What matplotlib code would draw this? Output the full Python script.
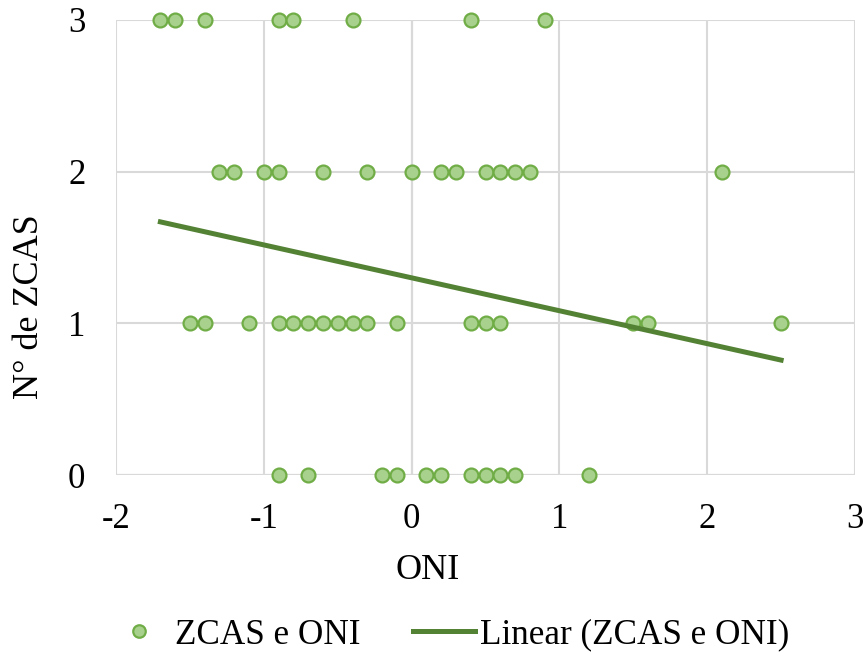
import numpy as np
import matplotlib; matplotlib.use("Agg"); import matplotlib.pyplot as plt

plt.rcParams["font.family"] = ["Liberation Serif", "DejaVu Serif"]
plt.rcParams["axes.unicode_minus"] = False

# ONI values grouped by number of ZCAS events
oni_3 = [-1.7, -1.6, -1.4, -0.9, -0.8, -0.4, 0.4, 0.9]
oni_2 = [-1.3, -1.2, -1.0, -0.9, -0.6, -0.3, 0.0, 0.2, 0.3, 0.5, 0.6, 0.7, 0.8, 2.1]
oni_1 = [-1.5, -1.4, -1.1, -0.9, -0.8, -0.7, -0.6, -0.5, -0.4, -0.3, -0.1, 0.4, 0.5, 0.6, 1.5, 1.6, 2.5]
oni_0 = [-0.9, -0.7, -0.2, -0.1, 0.1, 0.2, 0.4, 0.5, 0.6, 0.7, 1.2]
# linear trendline (spans data range)
trend_x = [-1.7, 2.5]
trend_slope, trend_icpt = -0.217, 1.30

x = np.array(oni_3 + oni_2 + oni_1 + oni_0)
y = np.array([3]*len(oni_3) + [2]*len(oni_2) + [1]*len(oni_1) + [0]*len(oni_0))
xt = np.array(trend_x)

fig = plt.figure(figsize=(8.66, 6.57), dpi=100)
ax = fig.add_axes([0.1340, 0.277, 0.8533, 0.6926])

ax.plot(x, y, "o", ms=10, mfc="#A9D18E", mec="#70AD47", mew=1.6,
        clip_on=False, zorder=3, label="ZCAS e ONI")
ax.plot(xt, trend_slope*xt + trend_icpt, "-", color="#548235", lw=3.6, zorder=4,
        label="Linear (ZCAS e ONI)")

ax.set_xlim(-2, 3); ax.set_ylim(0, 3)
ax.set_xticks(range(-2, 4)); ax.set_yticks(range(0, 4))
ax.grid(True, color="#D9D9D9", lw=1.5, zorder=0)
ax.axvline(0, color="#BFBFBF", lw=1.5, zorder=1)
ax.axhline(0, color="#BFBFBF", lw=1.5, zorder=1)
for s in ax.spines.values(): s.set_visible(False)
ax.tick_params(axis="y", length=0, labelsize=25, pad=22)
ax.tick_params(axis="x", length=0, labelsize=25, pad=20)
ax.set_xlabel("ONI", fontsize=26, va="center")
ax.set_ylabel("N° de ZCAS", fontsize=26, va="center")
ax.xaxis.set_label_coords(0.421, -0.209)
ax.yaxis.set_label_coords(-0.117, 0.369)

fig.legend(loc="center", bbox_to_anchor=(0.518, 1 - 635/657), ncol=2, frameon=False,
           fontsize=25.3, handlelength=1.75, handletextpad=0.15, columnspacing=1.5,
           markerscale=0.9, borderpad=0)
fig.savefig("out.png", dpi=100)
